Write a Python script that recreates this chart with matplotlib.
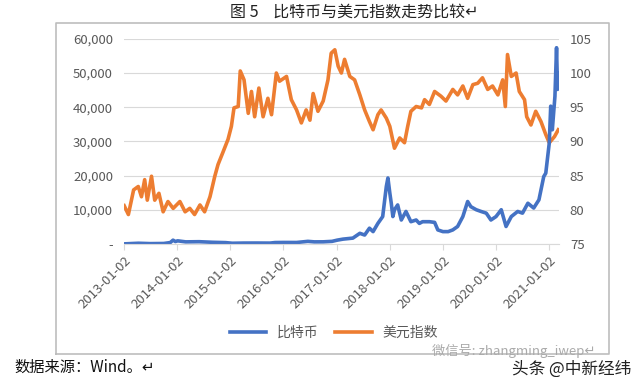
import pandas as pd
import matplotlib
matplotlib.use("Agg")
import matplotlib.pyplot as plt
from matplotlib.ticker import FuncFormatter, MultipleLocator
from matplotlib.lines import Line2D

plt.rcParams['font.family'] = ['Noto Sans CJK SC', 'DejaVu Sans']

# 比特币 (left axis, USD)
btc_dates = [
    "2013-01-02", "2013-04-10", "2013-07-01", "2013-10-01", "2013-11-15", "2013-12-04",
    "2013-12-20", "2014-01-05", "2014-03-01", "2014-06-01", "2014-09-01", "2014-12-01",
    "2015-01-15", "2015-04-01", "2015-07-01", "2015-10-01", "2015-11-05", "2016-01-01",
    "2016-04-01", "2016-06-18", "2016-08-01", "2016-10-01", "2016-12-01", "2017-01-05",
    "2017-02-14", "2017-04-23", "2017-06-10", "2017-07-13", "2017-08-15", "2017-09-09",
    "2017-10-12", "2017-11-14", "2017-12-09", "2017-12-20", "2018-01-02", "2018-01-12",
    "2018-01-23", "2018-02-03", "2018-02-25", "2018-03-22", "2018-04-23", "2018-05-27",
    "2018-07-02", "2018-07-24", "2018-08-15", "2018-10-01", "2018-11-06", "2018-11-28",
    "2019-01-02", "2019-02-07", "2019-03-11", "2019-04-13", "2019-05-19", "2019-06-21",
    "2019-07-13", "2019-08-19", "2019-09-21", "2019-10-27", "2019-11-28", "2020-01-02",
    "2020-02-07", "2020-03-11", "2020-04-16", "2020-05-30", "2020-07-02", "2020-08-08",
    "2020-09-17", "2020-10-23", "2020-11-25", "2020-12-09", "2021-01-02", "2021-01-12",
    "2021-01-23", "2021-02-10", "2021-02-21", "2021-02-28", "2021-03-05",
]
btc_values = [
    15, 200, 90, 130, 400, 1100,
    700, 900, 600, 650, 480, 380,
    200, 250, 260, 240, 400, 430,
    420, 750, 600, 610, 750, 1100,
    1400, 1700, 3100, 2600, 4600, 3600,
    6000, 8000, 16800, 19300, 14900, 11900,
    8000, 10000, 11400, 7000, 9500, 6500,
    7000, 6000, 6500, 6500, 6300, 4100,
    3600, 3600, 4100, 5100, 8000, 12400,
    10900, 10000, 9500, 9000, 7000, 8000,
    10000, 5100, 8000, 9500, 9000, 11900,
    10500, 12900, 19700, 20700, 29500, 40300,
    33400, 43200, 57400, 45200, 50000,
]

# 美元指数 (right axis)
dxy_dates = [
    "2013-01-02", "2013-01-31", "2013-03-08", "2013-04-09", "2013-05-01", "2013-05-23",
    "2013-06-10", "2013-07-09", "2013-07-31", "2013-08-29", "2013-09-27", "2013-10-30",
    "2013-12-05", "2014-01-20", "2014-02-25", "2014-03-29", "2014-05-01", "2014-06-07",
    "2014-07-09", "2014-08-15", "2014-09-17", "2014-10-09", "2014-11-10", "2014-12-17",
    "2015-01-09", "2015-01-27", "2015-02-25", "2015-03-11", "2015-04-06", "2015-05-05",
    "2015-05-27", "2015-06-18", "2015-07-17", "2015-08-15", "2015-09-17", "2015-10-12",
    "2015-11-14", "2015-12-06", "2016-01-23", "2016-02-25", "2016-04-01", "2016-05-04",
    "2016-06-06", "2016-07-02", "2016-07-24", "2016-08-26", "2016-10-01", "2016-11-03",
    "2016-11-25", "2016-12-20", "2017-01-12", "2017-02-03", "2017-02-25", "2017-04-02",
    "2017-05-05", "2017-06-10", "2017-07-13", "2017-08-15", "2017-09-09", "2017-10-12",
    "2017-11-03", "2017-12-09", "2018-01-02", "2018-02-03", "2018-03-11", "2018-04-13",
    "2018-05-05", "2018-05-27", "2018-07-02", "2018-08-08", "2018-08-29", "2018-10-01",
    "2018-11-06", "2018-12-20", "2019-01-23", "2019-02-17", "2019-03-11", "2019-04-13",
    "2019-05-19", "2019-06-21", "2019-07-27", "2019-08-29", "2019-10-01", "2019-11-06",
    "2019-12-09", "2020-01-15", "2020-02-17", "2020-03-06", "2020-03-21", "2020-04-16",
    "2020-05-19", "2020-06-10", "2020-07-16", "2020-07-31", "2020-08-29", "2020-10-01",
    "2020-11-06", "2020-12-09", "2021-01-02", "2021-02-07", "2021-03-05",
]
dxy_values = [
    80.6, 79.3, 82.9, 83.4, 81.9, 84.4,
    81.4, 84.9, 81.4, 82.4, 79.7, 81.2,
    80.2, 81.2, 79.7, 80.2, 79.3, 80.7,
    79.7, 81.9, 84.9, 86.6, 88.3, 90.3,
    92.2, 94.9, 95.1, 100.3, 99.0, 94.1,
    97.3, 93.6, 97.8, 93.6, 96.3, 93.9,
    100.0, 98.8, 99.5, 96.1, 94.6, 92.7,
    94.6, 93.1, 97.0, 94.4, 95.9, 99.0,
    102.9, 103.4, 101.0, 100.0, 102.0, 99.5,
    99.0, 96.8, 94.6, 92.9, 91.7, 93.9,
    94.6, 93.4, 92.2, 89.0, 90.5, 89.8,
    92.2, 94.4, 95.1, 94.9, 96.1, 95.4,
    97.3, 96.6, 95.9, 96.8, 97.6, 96.8,
    98.1, 96.3, 98.3, 98.5, 99.3, 97.6,
    98.1, 96.8, 99.0, 95.1, 102.7, 99.5,
    100.0, 97.3, 96.1, 93.6, 92.4, 94.4,
    92.9, 91.0, 89.8, 90.7, 91.7,
]

tick_labels = ["2013-01-02", "2014-01-02", "2015-01-02", "2016-01-02", "2017-01-02",
               "2018-01-02", "2019-01-02", "2020-01-02", "2021-01-02"]

btc = pd.Series(btc_values, index=pd.to_datetime(btc_dates))
dxy = pd.Series(dxy_values, index=pd.to_datetime(dxy_dates))

blue = "#4472C4"
orange = "#ED7D31"
grey = "#595959"

fig = plt.figure(figsize=(6.4, 3.77), dpi=100)
ax = fig.add_axes([0.194, 0.353, 0.679, 0.544])
ax2 = ax.twinx()
# blue over orange
ax.set_zorder(ax2.get_zorder() + 1)
ax.patch.set_visible(False)

l2, = ax2.plot(dxy.index, dxy.values, color=orange, lw=2.6, label="美元指数")
l1, = ax.plot(btc.index, btc.values, color=blue, lw=2.6, label="比特币")

ax.set_ylim(0, 60000)
ax2.set_ylim(75, 105)
ax.yaxis.set_major_locator(MultipleLocator(10000))
ax2.yaxis.set_major_locator(MultipleLocator(5))
ax.yaxis.set_major_formatter(FuncFormatter(lambda v, p: "-" if v == 0 else f"{v:,.0f}"))
ax2.grid(axis="y", color="#d9d9d9", lw=0.8)

ax.set_xlim(pd.Timestamp("2013-01-02"), pd.Timestamp("2021-03-08"))
ax.set_xticks(pd.to_datetime(tick_labels))
ax.set_xticklabels(tick_labels, rotation=45, ha="right", rotation_mode="anchor")

for a in (ax, ax2):
    for s in a.spines.values():
        s.set_visible(False)
    a.tick_params(axis="y", length=0, colors=grey, labelsize=9.5, pad=8)
ax.spines["bottom"].set_visible(True)
ax.spines["bottom"].set_color("#d9d9d9")
ax.tick_params(axis="x", length=4, color="#d9d9d9", colors=grey, labelsize=9.5, pad=3)

fig.legend(handles=[l1, l2], loc="center", bbox_to_anchor=(0.522, 0.117), ncol=2,
           frameon=False, fontsize=10, handlelength=2.6, columnspacing=1.2,
           labelcolor=grey)

# chart border
bx0, bx1, by0, by1 = 0.087, 0.952, 0.06, 0.94
fig.add_artist(Line2D([bx0, bx1, bx1, bx0, bx0], [by0, by0, by1, by1, by0],
                      transform=fig.transFigure, color="#bdbdbd", lw=1.2))

fig.text(0.553, 0.968, "图 5    比特币与美元指数走势比较↵", ha="center", va="center",
         fontsize=11.5, color="#222222")
fig.text(0.023, 0.026, "数据来源：Wind。↵", ha="left", va="center", fontsize=11, color="#111111")
fig.text(0.675, 0.068, "微信号: zhangming_iwep↵", ha="left", va="center", fontsize=9.5,
         color="#aaaaaa")
fig.text(0.80, 0.020, "头条 @中新经纬", ha="left", va="center", fontsize=12, color="#222222")

fig.savefig("out.png", dpi=100)
